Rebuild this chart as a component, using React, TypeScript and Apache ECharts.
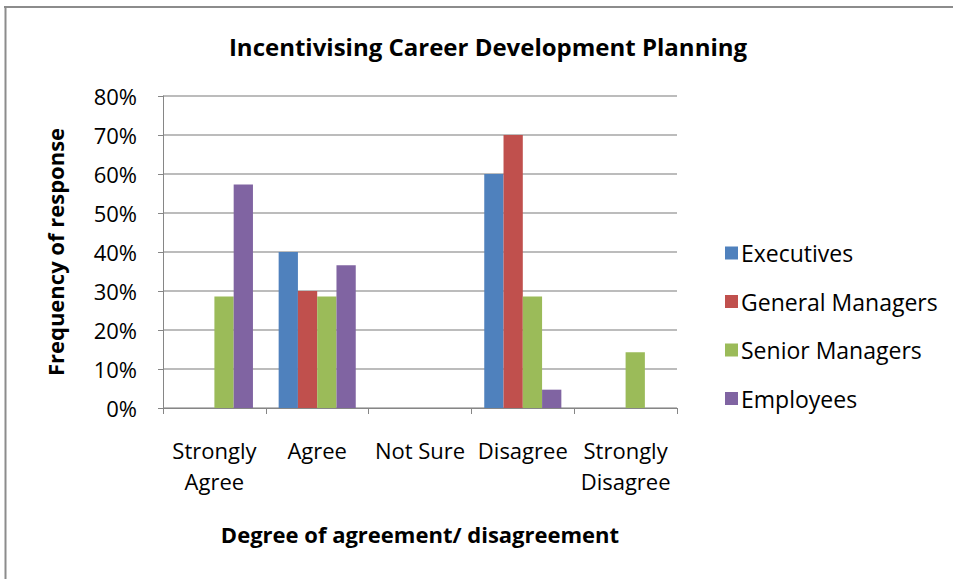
import React, { useEffect, useRef } from "react";
import * as echarts from "echarts";

const categories = ["Strongly\nAgree", "Agree", "Not Sure", "Disagree", "Strongly\nDisagree"];
const seriesNames = ["Executives", "General Managers", "Senior Managers", "Employees"];
const executives = [0, 40, 0, 60, 0];
const generalManagers = [0, 30, 0, 70, 0];
const seniorManagers = [28.6, 28.6, 0, 28.6, 14.3];
const employees = [57.3, 36.6, 0, 4.7, 0];
const colors = ["#4F81BD", "#C0504D", "#9BBB59", "#8064A2"];
const titleText = "Incentivising Career Development Planning";
const yAxisName = "Frequency of response";
const xAxisName = "Degree of agreement/ disagreement";

const FONT = "'Open Sans', sans-serif";

export default function App() {
  const ref = useRef<HTMLDivElement>(null);
  useEffect(() => {
    if (!ref.current) return;
    const chart = echarts.init(ref.current, undefined, { renderer: "svg" });
    const values = [executives, generalManagers, seniorManagers, employees];
    chart.setOption({
      animation: false,
      backgroundColor: "#ffffff",
      textStyle: { fontFamily: FONT },
      title: {
        text: titleText,
        left: 483,
        top: 29,
        textAlign: "center",
        textStyle: { fontFamily: FONT, fontSize: 24, fontWeight: "bold", color: "#000" },
      },
      legend: {
        orient: "vertical",
        left: 720,
        top: 236,
        itemWidth: 13,
        itemHeight: 13,
        itemGap: 24.5,
        icon: "rect",
        textStyle: { fontFamily: FONT, fontSize: 23, color: "#000", lineHeight: 24, padding: [0, 0, 0, -2] },
        data: seriesNames,
      },
      grid: { left: 163, right: 276, top: 96, bottom: 171, containLabel: false },
      xAxis: {
        type: "category",
        data: categories,
        name: xAxisName,
        nameLocation: "middle",
        nameGap: 115,
        nameTextStyle: { fontFamily: FONT, fontSize: 22, fontWeight: "bold", color: "#000" },
        axisLine: { lineStyle: { color: "#868686", width: 1 } },
        axisTick: { show: true, length: 6, lineStyle: { color: "#868686" } },
        axisLabel: {
          interval: 0,
          margin: 26,
          fontFamily: FONT,
          fontSize: 22,
          lineHeight: 31,
          color: "#000",
        },
      },
      yAxis: {
        type: "value",
        min: 0,
        max: 80,
        interval: 10,
        name: yAxisName,
        nameLocation: "middle",
        nameRotate: 90,
        nameGap: 97,
        nameTextStyle: { fontFamily: FONT, fontSize: 22, fontWeight: "bold", color: "#000" },
        axisLine: { show: true, lineStyle: { color: "#868686", width: 1 } },
        axisTick: { show: true, length: 5, lineStyle: { color: "#868686" } },
        splitLine: { show: true, lineStyle: { color: "#a6a6a6", width: 1.5 } },
        axisLabel: {
          formatter: "{value}%",
          margin: 26,
          fontFamily: FONT,
          fontSize: 22,
          color: "#000",
        },
      },
      series: seriesNames.map((name, i) => ({
        name,
        type: "bar",
        data: values[i],
        barGap: "0%",
        barCategoryGap: "25%",
        itemStyle: { color: colors[i] },
      })),
      graphic: [
        {
          type: "line",
          shape: { x1: 4, y1: 7, x2: 953, y2: 7 },
          style: { stroke: "#8c8c8c", lineWidth: 2 },
          silent: true,
        },
        {
          type: "line",
          shape: { x1: 5.5, y1: 6, x2: 5.5, y2: 579 },
          style: { stroke: "#8c8c8c", lineWidth: 2 },
          silent: true,
        },
      ],
    });
    return () => chart.dispose();
  }, []);
  return (
    <div
      ref={ref}
      style={{ position: "fixed", left: 0, top: 0, width: 953, height: 579 }}
    />
  );
}
